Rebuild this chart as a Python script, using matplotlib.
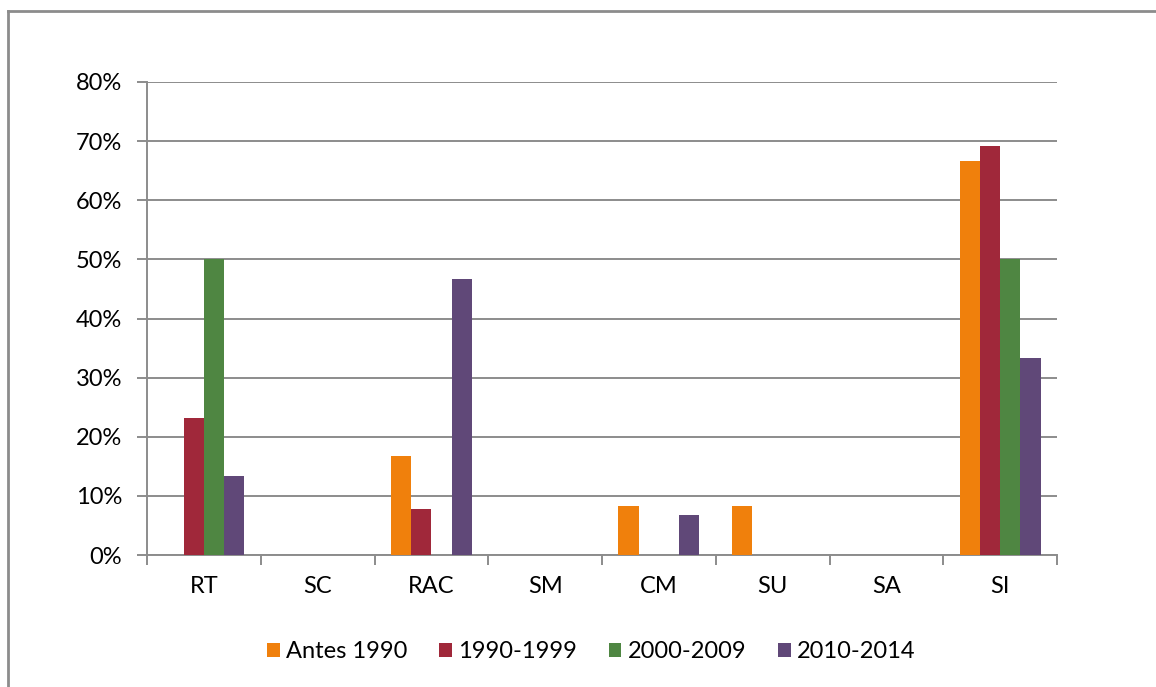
import matplotlib
matplotlib.use("Agg")
import matplotlib.pyplot as plt
import numpy as np
from matplotlib.lines import Line2D
from matplotlib.ticker import FixedLocator, FuncFormatter

plt.rcParams['font.family'] = ['Lato', 'DejaVu Sans']

categories = ["RT", "SC", "RAC", "SM", "CM", "SU", "SA", "SI"]
series_names = ["Antes 1990", "1990-1999", "2000-2009", "2010-2014"]
antes_1990 = [0.0, 0.0, 16.7, 0.0, 8.3, 8.3, 0.0, 66.7]
s1990_1999 = [23.1, 0.0, 7.7, 0.0, 0.0, 0.0, 0.0, 69.2]
s2000_2009 = [50.0, 0.0, 0.0, 0.0, 0.0, 0.0, 0.0, 50.0]
s2010_2014 = [13.3, 0.0, 46.7, 0.0, 6.7, 0.0, 0.0, 33.3]
y_ticks = [0, 10, 20, 30, 40, 50, 60, 70, 80]

colors = ["#F0800C", "#A0283A", "#4F8642", "#604878"]
series = [antes_1990, s1990_1999, s2000_2009, s2010_2014]

fig = plt.figure(figsize=(11.56, 6.87), dpi=100)
ax = fig.add_axes([147/1156, 1-555/687, 910/1156, 473/687])

x = np.arange(len(categories))
bw = 0.178
for i, (vals, c, name) in enumerate(zip(series, colors, series_names)):
    ax.bar(x + (i - 1.5) * bw, vals, width=bw, color=c, label=name, zorder=3,
           edgecolor='none')

grid_c = "#8C8C8C"
fs = 17
ax.set_xlim(-0.5, len(categories) - 0.5)
ax.set_ylim(0, 80)
ax.set_yticks(y_ticks)
ax.yaxis.set_major_formatter(FuncFormatter(lambda v, p: f"{int(v)}%"))
ax.grid(axis='y', color=grid_c, linewidth=1.4, zorder=0)
ax.set_axisbelow(True)

ax.xaxis.set_major_locator(FixedLocator(np.arange(-0.5, len(categories))))
ax.xaxis.set_major_formatter(FuncFormatter(lambda v, p: ""))
ax.xaxis.set_minor_locator(FixedLocator(x))
ax.set_xticklabels(categories, minor=True)
ax.tick_params(axis='x', which='major', length=7, width=1.4, color=grid_c, direction='out')
ax.tick_params(axis='x', which='minor', length=0, pad=15, labelsize=fs)
ax.tick_params(axis='y', which='major', length=7, width=1.4, color=grid_c, pad=11, labelsize=fs)

for s in ['top', 'right']:
    ax.spines[s].set_visible(False)
for s in ['left', 'bottom']:
    ax.spines[s].set_color(grid_c)
    ax.spines[s].set_linewidth(1.4)

# Figure border (only left and top visible)
bx = 7.5/1156
by = 1 - 10.5/687
fig.add_artist(Line2D([bx, bx], [-0.01, by], transform=fig.transFigure, color="#8C8C8C", lw=2))
fig.add_artist(Line2D([bx, 1.01], [by, by], transform=fig.transFigure, color="#8C8C8C", lw=2))

leg = fig.legend(loc='center', bbox_to_anchor=(591/1156, 1-652/687), ncol=4, frameon=False,
                 fontsize=fs, handlelength=0.55, handleheight=0.55, handletextpad=0.25,
                 columnspacing=1.35)

fig.savefig("out.png", dpi=100)
